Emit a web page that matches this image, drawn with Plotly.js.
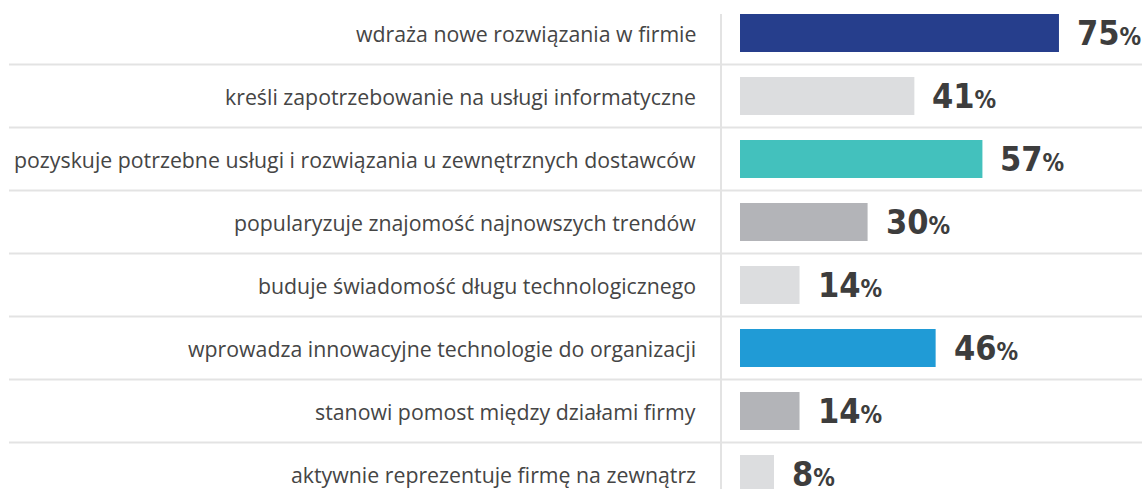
<!DOCTYPE html>
<html>
<head>
<meta charset="utf-8">
<script src="https://cdn.plot.ly/plotly-3.0.1.min.js"></script>
<style>html,body{margin:0;padding:0;background:#fff;}#chart{width:1142px;height:489px;}</style>
</head>
<body>
<div id="chart"></div>
<script>
const categories = [
  "wdraża nowe rozwiązania w firmie",
  "kreśli zapotrzebowanie na usługi informatyczne",
  "pozyskuje potrzebne usługi i rozwiązania u zewnętrznych dostawców",
  "popularyzuje znajomość najnowszych trendów",
  "buduje świadomość długu technologicznego",
  "wprowadza innowacyjne technologie do organizacji",
  "stanowi pomost między działami firmy",
  "aktywnie reprezentuje firmę na zewnątrz"
];
const values = [75, 41, 57, 30, 14, 46, 14, 8];
const barColors = ["#263e8c", "#dcdddf", "#43c1bd", "#b3b4b8", "#dcdddf", "#209bd6", "#b3b4b8", "#dcdddf"];

const W = 1142, H = 489;
const pxPerUnit = 4.253;          // px per percent
const zeroPx = 740;                // x pixel of 0%
const rowPitch = 63, firstRow = 33;
const xMin = -zeroPx / pxPerUnit, xMax = (W - zeroPx) / pxPerUnit;
const yTop = -firstRow / rowPitch, yBot = (H - firstRow) / rowPitch;
const idx = categories.map((_, i) => i);

const trace = {
  type: 'bar', orientation: 'h',
  x: values, y: idx,
  width: 38 / rowPitch,
  marker: {color: barColors, line: {width: 0}},
  hoverinfo: 'skip'
};

const labelFont = {family: '"Open Sans", "Noto Sans", sans-serif', size: 21.3, color: '#454545'};
const numFamily = '"Liberation Sans Narrow", "DejaVu Sans Condensed", Roboto, sans-serif';

const annotations = [];
categories.forEach((c, i) => {
  annotations.push({
    x: (698 - zeroPx) / pxPerUnit, y: i, xref: 'x', yref: 'y',
    text: c, showarrow: false, xanchor: 'right', yanchor: 'middle',
    font: labelFont
  });
  annotations.push({
    x: values[i], y: i, xref: 'x', yref: 'y', xshift: 16,
    text: '<b>' + values[i] + '</b><b><span style="font-size:24px">%</span></b>',
    showarrow: false, xanchor: 'left', yanchor: 'middle',
    font: {family: numFamily, size: 34, color: '#3d3d3d'}
  });
});

const shapes = [];
for (let i = 0; i < categories.length - 1; i++) {
  shapes.push({type: 'line', xref: 'paper', yref: 'y', x0: 9 / W, x1: 1, y0: i + 0.5, y1: i + 0.5,
    line: {color: '#e3e3e3', width: 2}, layer: 'below'});
}
shapes.push({type: 'line', xref: 'x', yref: 'paper', x0: (721 - zeroPx) / pxPerUnit, x1: (721 - zeroPx) / pxPerUnit,
  y0: 1 - 14 / H, y1: 0, line: {color: '#e3e3e3', width: 2}, layer: 'below'});

const layout = {
  width: W, height: H,
  margin: {l: 0, r: 0, t: 0, b: 0},
  paper_bgcolor: '#fff', plot_bgcolor: '#fff',
  showlegend: false,
  xaxis: {range: [xMin, xMax], visible: false, fixedrange: true},
  yaxis: {range: [yBot, yTop], visible: false, fixedrange: true},
  annotations: annotations,
  shapes: shapes
};

Plotly.newPlot('chart', [trace], layout, {displayModeBar: false, staticPlot: true});
</script>
</body>
</html>
